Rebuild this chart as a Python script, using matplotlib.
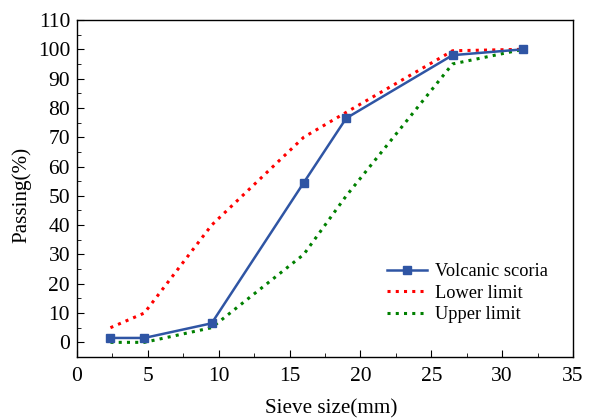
import matplotlib
matplotlib.use("Agg")
import matplotlib.pyplot as plt
from matplotlib.ticker import MultipleLocator

plt.rcParams['font.family'] = ['Liberation Serif', 'DejaVu Serif']

sieve = [2.36, 4.75, 9.5, 16, 19, 26.5, 31.5]
scoria = [1.5, 1.5, 6.5, 54.5, 76.5, 98, 100]
lower = [5, 10, 40, 70, 78.5, 99.5, 100]
upper = [0, 0, 5, 30, 50, 95, 100]

fig = plt.figure(figsize=(5.97, 4.19), dpi=100)
ax = fig.add_axes([77/597, 1-357/419, (573-77)/597, (357-20)/419])

ax.plot(sieve, lower, color='#ff0000', linestyle=(0, (1, 1.7)), linewidth=2.2, label='Lower limit')
ax.plot(sieve, upper, color='#008000', linestyle=(0, (1, 1.7)), linewidth=2.2, label='Upper limit')
ax.plot(sieve, scoria, color='#2f55a4', linewidth=1.8, marker='s', markersize=6,
        markerfacecolor='#2f55a4', markeredgecolor='#2f55a4', label='Volcanic scoria')

ax.set_xlim(0, 35)
ax.set_ylim(-5, 110)
ax.xaxis.set_major_locator(MultipleLocator(5))
ax.xaxis.set_minor_locator(MultipleLocator(2.5))
ax.yaxis.set_major_locator(MultipleLocator(10))
ax.yaxis.set_minor_locator(MultipleLocator(5))
ax.set_yticks(range(0, 111, 10))
ax.tick_params(which='both', direction='in', labelsize=15.5)
ax.tick_params(which='major', length=5)
ax.tick_params(which='minor', length=3)
ax.tick_params(axis='x', which='major', pad=7)
ax.tick_params(axis='y', which='major', pad=5)
for s in ax.spines.values():
    s.set_linewidth(1.0)

ax.set_xlabel('Sieve size(mm)', fontsize=15.2)
ax.set_ylabel('Passing(%)', fontsize=15.2)
ax.xaxis.set_label_coords(0.512, -0.125)
ax.yaxis.set_label_coords(-0.091, 0.48)

h, l = ax.get_legend_handles_labels()
order = [2, 0, 1]
ax.legend([h[i] for i in order], [l[i] for i in order], frameon=False, fontsize=13.2,
          loc='upper left', bbox_to_anchor=(0.61, 0.30), handlelength=2.2,
          borderaxespad=0, labelspacing=0.25, handletextpad=0.4)

fig.savefig('out.png', dpi=100)
